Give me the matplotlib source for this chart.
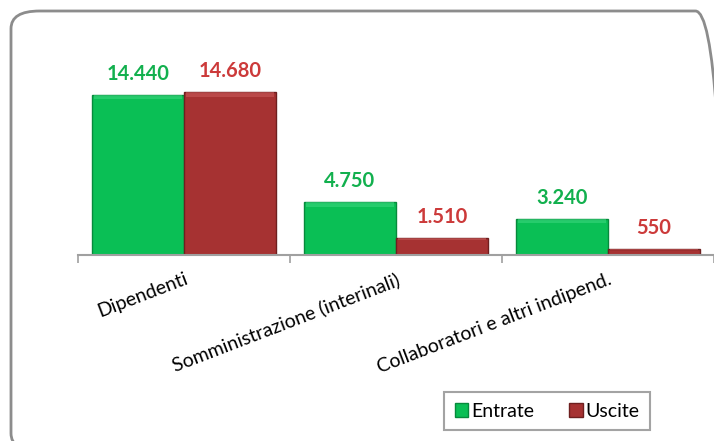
import numpy as np
import matplotlib.pyplot as plt
from matplotlib.patches import FancyBboxPatch

categorie = ['Dipendenti', 'Somministrazione (interinali)', 'Collaboratori e altri indipend.']
entrate = [14440, 4750, 3240]
uscite = [14680, 1510, 550]
serie = ['Entrate', 'Uscite']

verde = '#0abf55'
rosso = '#a63232'
verde_txt = '#12b04e'
rosso_txt = '#cc3a3a'

plt.rcParams['font.family'] = ['Lato', 'DejaVu Sans']

W, H = 714, 441
fig = plt.figure(figsize=(W / 100, H / 100), dpi=100)

# cornice arrotondata esterna (tagliata a destra e in basso)
cornice = FancyBboxPatch((11 / W, 1 - 451 / H), 713 / W, 440 / H,
                         boxstyle='round,pad=0,rounding_size=0.04',
                         transform=fig.transFigure, fill=False,
                         edgecolor='#8c8c8c', linewidth=2, clip_on=False)
fig.patches.append(cornice)

ax = fig.add_axes([78 / W, 1 - 255 / H, (714 - 78) / W, (255 - 40) / H])
x = np.arange(len(categorie))
w = 0.434
b1 = ax.bar(x - w / 2, entrate, w, color=verde, edgecolor='#078a3c', linewidth=1, label=serie[0])
b2 = ax.bar(x + w / 2, uscite, w, color=rosso, edgecolor='#6e1f1f', linewidth=1, label=serie[1])

# leggero effetto rilievo sulla parte alta delle barre
for bars, c in ((b1, '#3ad57c'), (b2, '#c95a5a')):
    for r in bars:
        h = min(r.get_height() * 0.12, 400)
        ax.add_patch(plt.Rectangle((r.get_x() + 0.01, r.get_height() - h), r.get_width() - 0.02, h,
                                   color=c, alpha=0.6, linewidth=0))

def fmt(v):
    return f'{v:,}'.replace(',', '.')

for bars, vals, c in ((b1, entrate, verde_txt), (b2, uscite, rosso_txt)):
    for r, v in zip(bars, vals):
        ax.annotate(fmt(v), (r.get_x() + r.get_width() / 2, v), xytext=(0, 8),
                    textcoords='offset points', ha='center', va='bottom',
                    fontsize=14.5, fontweight='bold', color=c)

ax.set_xlim(-0.5, 2.5)
ax.set_ylim(0, 19400)
for s in ['top', 'right', 'left']:
    ax.spines[s].set_visible(False)
ax.spines['bottom'].set_color('#a0a0a0')
ax.spines['bottom'].set_linewidth(1.5)
ax.set_yticks([])
ax.set_xticks([-0.5, 0.5, 1.5, 2.5])
ax.set_xticklabels([])
ax.tick_params(axis='x', which='major', length=6, color='#a0a0a0', width=1.2)
ax.set_xticks(x, minor=True)
ax.set_xticklabels(categorie, minor=True, rotation=21, ha='right', rotation_mode='anchor',
                   fontsize=14)
ax.tick_params(axis='x', which='minor', length=0, pad=11)

leg = fig.legend(loc='upper left', bbox_to_anchor=(444 / W, 1 - 392 / H), ncol=2,
                 frameon=True, fancybox=False, fontsize=14, handlelength=0.7,
                 handleheight=0.7, handletextpad=0.15, columnspacing=1.8,
                 borderpad=0.55, borderaxespad=0)
leg.get_frame().set_edgecolor('#8c8c8c')
leg.get_frame().set_linewidth(1.5)

fig.savefig('out.png', dpi=100)
